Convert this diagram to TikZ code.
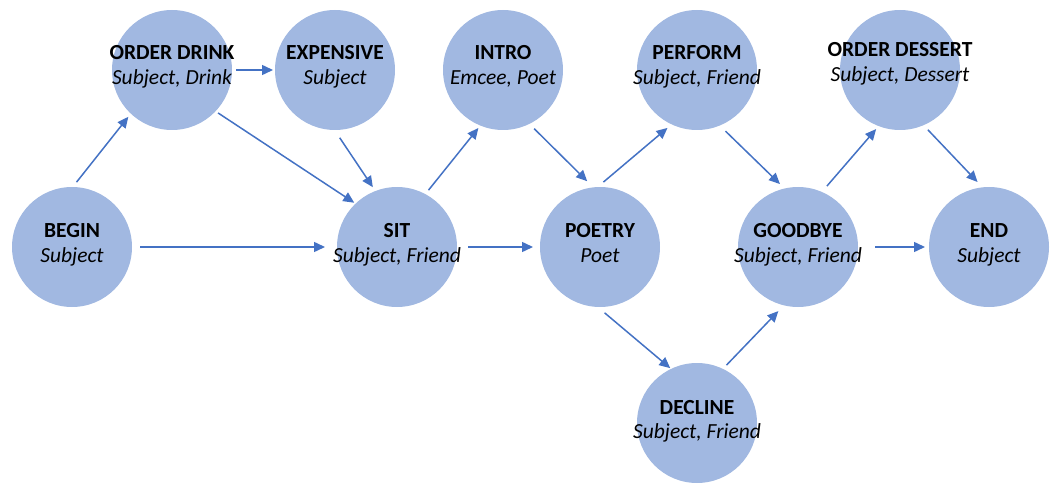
\documentclass[tikz,border=0pt]{standalone}
\usepackage{fontspec}
\setmainfont{Carlito}
\usetikzlibrary{arrows.meta,calc}
\definecolor{stfill}{HTML}{A1B8E1}
\definecolor{arrblue}{HTML}{4472C4}
\tikzset{
  stcircle/.style={circle,fill=stfill,draw=none,minimum size=120pt,inner sep=0pt,outer sep=0pt},
  stlabel/.style={anchor=base,inner sep=0pt,font=\fontsize{21.5}{24}\selectfont\bfseries},
  stsub/.style={anchor=base,inner sep=0pt,font=\fontsize{21.5}{24}\selectfont\itshape},
  arr/.style={draw=arrblue,line width=1.5pt,-{Triangle[length=11pt,width=10pt]},fill=arrblue}
}
% state: name, centre, label, role list, label offset, role offset
\newcommand\statenode[6]{%
  \node[stcircle] (#1) at #2 {};
  \node[stlabel] (#1-l) at ([yshift=#5pt]#1.center) {#3};
  \node[stsub] (#1-s) at ([yshift=#6pt]#1.center) {#4};
}
\begin{document}
\begin{tikzpicture}[x=1pt,y=1pt]
\useasboundingbox (0,0) rectangle (1053,483);

\statenode{begin}{(72,236)}{BEGIN}{Subject}{10}{-15}
\statenode{odrink}{(172,413)}{ORDER DRINK}{Subject, Drink}{10}{-15}
\statenode{expensive}{(335,413)}{EXPENSIVE}{Subject}{10}{-15}
\statenode{sit}{(397,236)}{SIT}{Subject, Friend}{10}{-15}
\statenode{intro}{(503,413)}{INTRO}{Emcee, Poet}{10}{-15}
\statenode{poetry}{(600,236)}{POETRY}{Poet}{10}{-15}
\statenode{perform}{(697,413)}{PERFORM}{Subject, Friend}{10}{-15}
\statenode{decline}{(697,60)}{DECLINE}{Subject, Friend}{9}{-15}
\statenode{goodbye}{(798,236)}{GOODBYE}{Subject, Friend}{10}{-15}
\statenode{odessert}{(900,413)}{ORDER DESSERT}{Subject, Dessert}{13}{-12}
\statenode{end}{(989,236)}{END}{Subject}{10}{-15}

% transitions
\draw[arr] ($(begin)+(86:65)$) -- ($(odrink)+(227:64)$);
\draw[arr] ($(odrink)+(0:64)$) -- ($(expensive)+(180:62)$);
\draw[arr] ($(odrink)+(317:63)$) -- ($(sit)+(134:61.5)$);
\draw[arr] ($(begin)+(0:68)$) -- ($(sit)+(180:72)$);
\draw[arr] ($(expensive)+(274:68)$) -- ($(sit)+(112:64.5)$);
\draw[arr] ($(sit)+(61:65)$) -- ($(intro)+(247:63)$);
\draw[arr] ($(sit)+(0:71)$) -- ($(poetry)+(180:67)$);
\draw[arr] ($(intro)+(298:66.5)$) -- ($(poetry)+(101:67)$);
\draw[arr] ($(poetry)+(87:65)$) -- ($(perform)+(243:65)$);
\draw[arr] ($(perform)+(295:67.5)$) -- ($(goodbye)+(106:65.5)$);
\draw[arr] ($(goodbye)+(64.6:67.5)$) -- ($(odessert)+(248:63.7)$);
\draw[arr] ($(odessert)+(295:66)$) -- ($(end)+(100:66)$);
\draw[arr] ($(goodbye)+(0:77)$) -- ($(end)+(180:64)$);
\draw[arr] ($(poetry)+(274:66)$) -- ($(decline)+(116:61)$);
\draw[arr] ($(decline)+(63:65)$) -- ($(goodbye)+(253:67)$);
\end{tikzpicture}
\end{document}
